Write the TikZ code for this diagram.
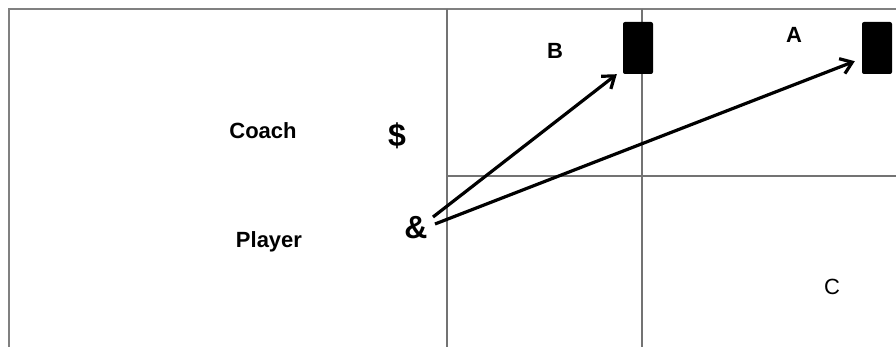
\documentclass[tikz,border=0pt]{standalone}
\usepackage{fontspec}
\setmainfont{Liberation Sans}
\usetikzlibrary{arrows.meta}
\tikzset{
	font=\bfseries\fontsize{22}{26}\selectfont,
	>={Straight Barb[length=11pt,width=16pt]},
	frame/.style={draw=black!50, line width=2pt},
	grid/.style={draw=black!55, line width=1.3pt},
	target/.style={fill=black, rounded corners=2pt, minimum width=30pt, minimum height=52pt, inner sep=0pt},
	pass/.style={->, line width=3.2pt}
}
\begin{document}
\begin{tikzpicture}[x=1pt, y=-1pt]  % pixel grid, y downwards

\useasboundingbox (0,0) rectangle (896,347);

% field outline
\draw[frame] (9,347) -- (9,9) -- (896,9);

% zones
\draw[grid] (447,9) -- (447,347);
\draw[grid] (642,9) -- (642,347);
\draw[grid] (447,176) -- (896,176);

% labels
\node (coach) at (263,131) {Coach};
\node (player) at (269,242) {Player};
\node (dollar) at (397,136) {\fontsize{32}{36}\selectfont\$};
\node (amp) at (416,228) {\fontsize{32}{36}\selectfont\&};

% zone letters
\node (lblB) at (555,51) {B};
\node (lblA) at (794,35) {A};
\node[font=\fontsize{22}{26}\selectfont] (lblC) at (832,287) {C};

% targets
\node[target] (boxB) at (638,48) {};
\begin{scope}
\clip (0,0) rectangle (896,347);
\node[target] (boxA) at (877,48) {};
\end{scope}

% passes
\draw[pass] ([shift={(17,-11)}]amp.center) -- ([xshift=-6pt]boxB.south west);
\draw[pass] ([shift={(19,-4)}]amp.center) -- ([shift={(-7,-13)}]boxA.south west);

\end{tikzpicture}
\end{document}
